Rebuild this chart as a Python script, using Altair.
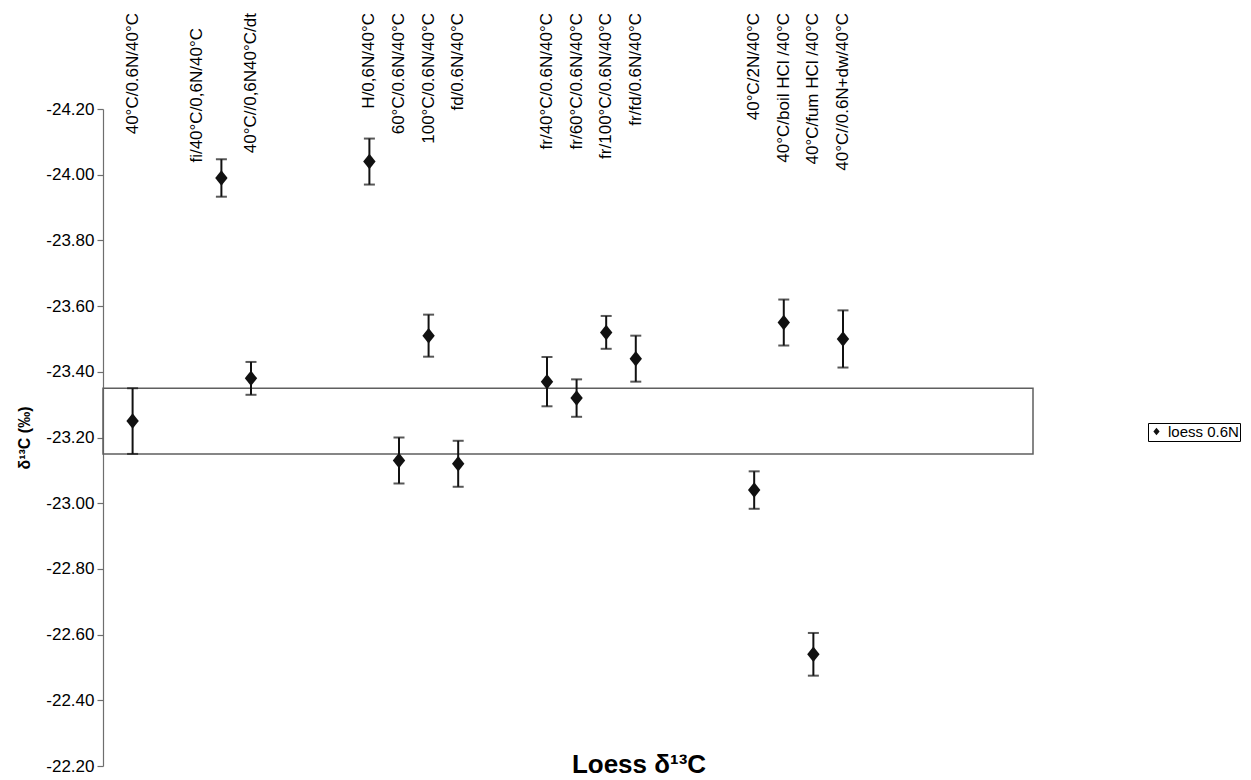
import altair as alt
import pandas as pd

# ---- data ----
labels = [
    "40°C/0.6N/40°C", "fi/40°C/0,6N/40°C", "40°C//0,6N40°C/dt", "H/0,6N/40°C",
    "60°C/0.6N/40°C", "100°C/0.6N/40°C", "fd/0.6N/40°C",
    "fr/40°C/0.6N/40°C", "fr/60°C/0.6N/40°C", "fr/100°C/0.6N/40°C", "fr/fd/0.6N/40°C",
    "40°C/2N/40°C", "40°C/boil HCl /40°C", "40°C/fum HCl /40°C", "40°C//0.6N+dw/40°C",
]
x_pos = [1, 4, 5, 9, 10, 11, 12, 15, 16, 17, 18, 22, 23, 24, 25]
delta = [-23.25, -23.99, -23.38, -24.04, -23.13, -23.51, -23.12,
         -23.37, -23.32, -23.52, -23.44, -23.04, -23.55, -22.54, -23.50]
err = [0.10, 0.057, 0.05, 0.07, 0.07, 0.064, 0.07,
       0.075, 0.057, 0.05, 0.07, 0.057, 0.07, 0.065, 0.087]
band = [-23.35, -23.15]
y_ticks = [-24.2, -24.0, -23.8, -23.6, -23.4, -23.2, -23.0, -22.8, -22.6, -22.4, -22.2]
series_name = "loess 0.6N"

df = pd.DataFrame({
    "label": labels,
    "x": x_pos,
    "d": delta,
    "lo": [v - e for v, e in zip(delta, err)],
    "hi": [v + e for v, e in zip(delta, err)],
    "series": [series_name] * len(labels),
})
band_df = pd.DataFrame({"lo": [band[0]], "hi": [band[1]]})

FONT = "Liberation Sans"
DIAMOND = "M0,-1L0.8,0L0,1L-0.8,0Z"

xs = alt.Scale(domain=[0, 31.42], nice=False, zero=False)
ys = alt.Scale(domain=[y_ticks[0], y_ticks[-1]], reverse=True, nice=False, zero=False)

X = alt.X("x:Q", scale=xs, axis=None)

rect = alt.Chart(band_df).mark_rect(
    fillOpacity=0, stroke="#5f5f5f", strokeWidth=1.5
).encode(
    x=alt.value(0), x2=alt.value("width"),
    y=alt.Y("lo:Q", scale=ys, axis=alt.Axis(
        values=y_ticks,
        labelExpr="replace(format(datum.value, '.2f'), '\u2212', '-')",
        title="δ¹³C (‰)", titleFontSize=16, titleFontWeight="bold", titleFont=FONT,
        titleColor="black", titlePadding=13,
        labelFontSize=17, labelFont=FONT, labelColor="black", labelPadding=3,
        tickSize=6, tickColor="#6e6e6e", domainColor="#6e6e6e",
        tickWidth=1.2, domainWidth=1.2, grid=False)),
    y2="hi:Q",
)

rules = alt.Chart(df).mark_rule(color="#111111", strokeWidth=2).encode(
    x=X, y=alt.Y("lo:Q", scale=ys), y2="hi:Q"
)
cap_lo = alt.Chart(df).mark_tick(orient="horizontal", size=11, thickness=2, color="#111111").encode(
    x=X, y=alt.Y("lo:Q", scale=ys)
)
cap_hi = alt.Chart(df).mark_tick(orient="horizontal", size=11, thickness=2, color="#111111").encode(
    x=X, y=alt.Y("hi:Q", scale=ys)
)

points = alt.Chart(df).mark_point(
    filled=True, shape=DIAMOND, size=240, opacity=1, strokeWidth=0
).encode(
    x=X, y=alt.Y("d:Q", scale=ys),
    color=alt.Color("series:N", scale=alt.Scale(range=["#111111"]), legend=alt.Legend(
        orient="none", legendX=1045, legendY=314, title=None,
        strokeColor="black", fillColor="white", padding=1,
        labelFontSize=15, labelFont=FONT, labelColor="black",
        symbolType=DIAMOND, symbolSize=60, symbolStrokeWidth=0, symbolOpacity=1,
    )),
)

text_style = dict(angle=270, align="right", baseline="middle", fontSize=17, font=FONT, color="black")
cat_labels = alt.Chart(df).transform_filter(
    alt.datum.label != labels[1]
).mark_text(**text_style).encode(x=X, y=alt.value(-96), text="label:N")
fi_label = alt.Chart(df).transform_filter(
    alt.datum.label == labels[1]
).mark_text(dy=-24, **text_style).encode(x=X, y=alt.value(-81), text="label:N")

chart = alt.layer(rect, rules, cap_lo, cap_hi, points, cat_labels, fi_label).properties(
    width=930, height=657,
    autosize=alt.AutoSizeParams(type="none"),
    padding={"left": 95, "top": 101, "right": 210, "bottom": 30},
    background="white",
    title=alt.TitleParams(
        "Loess δ¹³C", orient="bottom", anchor="middle", fontSize=26, fontWeight="bold",
        font=FONT, color="black", dx=71, dy=-1, offset=0, baseline="alphabetic",
    ),
).configure_view(stroke=None)

chart.save("out.html", embed_options={"renderer": "svg", "actions": False})
